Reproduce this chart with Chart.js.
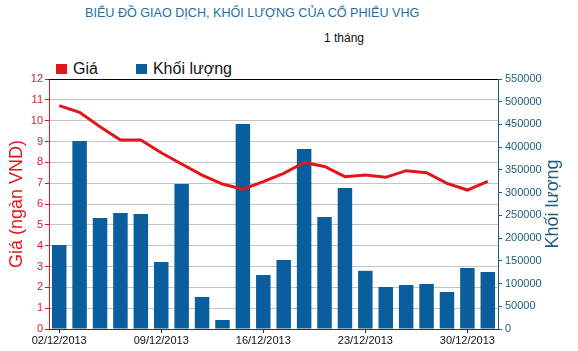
<!DOCTYPE html>
<html>
<head>
<meta charset="utf-8">
<script src="https://cdn.jsdelivr.net/npm/chart.js@4"></script>
<style>
    body { margin: 0; background: #fff; font-family: "Liberation Sans", Arial, sans-serif; }
    #wrap { position: relative; width: 578px; height: 351px; }
    #title { position: absolute; left: 85px; top: 6px; font-size: 12.6px; color: #2470a4; white-space: nowrap; }
    #period { position: absolute; left: 324px; top: 31px; font-size: 12px; color: #111; }
    #legend { position: absolute; left: 56px; top: 60px; font-size: 16px; color: #111; display: flex; }
    #legend span.item { display: flex; align-items: center; margin-right: 38px; }
    #legend span.box { width: 11px; height: 10px; margin-right: 6px; display: inline-block; }
    canvas { position: absolute; left: 0; top: 0; }
</style>
</head>
<body>
<div id="wrap">
    <div id="title">BIỂU ĐỒ GIAO DỊCH, KHỐI LƯỢNG CỦA CỔ PHIẾU VHG</div>
    <div id="period">1 tháng</div>
    <div id="legend"></div>
    <canvas id="stockChart" width="578" height="351"></canvas>
</div>
<script>
// Data
const dates = ['02/12/2013', '03/12/2013', '04/12/2013', '05/12/2013', '06/12/2013',
    '09/12/2013', '10/12/2013', '11/12/2013', '12/12/2013', '13/12/2013',
    '16/12/2013', '17/12/2013', '18/12/2013', '19/12/2013', '20/12/2013',
    '23/12/2013', '24/12/2013', '25/12/2013', '26/12/2013', '27/12/2013',
    '30/12/2013', '31/12/2013'];
const prices = [10.72, 10.40, 9.71, 9.07, 9.07, 8.46, 7.92, 7.39, 6.96, 6.71, 7.07,
    7.47, 7.99, 7.80, 7.31, 7.39, 7.28, 7.60, 7.50, 6.99, 6.67, 7.09];
const volumes = [185000, 413600, 244200, 255200, 253000, 147400, 319000, 70400, 19800,
    451000, 118800, 151800, 396000, 246400, 310200, 128000, 92400, 96800, 99000,
    81400, 134200, 125400];
const priceTicks = [0, 1, 2, 3, 4, 5, 6, 7, 8, 9, 10, 11, 12];
const volumeTicks = [0, 50000, 100000, 150000, 200000, 250000, 300000, 350000, 400000,
    450000, 500000, 550000];

const RED = '#e3151b';
const BLUE = '#0b5e9e';
const TEAL = '#1c5d7c';

// Axis titles + top border
const framePlugin = {
    id: 'frame',
    afterDraw(chart) {
        const c = chart.ctx;
        const a = chart.chartArea;
        c.save();
        c.strokeStyle = '#000';
        c.lineWidth = 1;
        c.beginPath();
        c.moveTo(a.left, a.top + 0.5);
        c.lineTo(a.right, a.top + 0.5);
        c.stroke();

        c.font = '18px "Liberation Sans", Arial, sans-serif';
        c.textAlign = 'center';
        c.textBaseline = 'middle';
        const midY = (a.top + a.bottom) / 2;

        c.translate(17, midY);
        c.rotate(-Math.PI / 2);
        c.fillStyle = RED;
        c.fillText('Giá (ngàn VND)', 0, 0);
        c.restore();

        c.save();
        c.font = '18px "Liberation Sans", Arial, sans-serif';
        c.textAlign = 'center';
        c.textBaseline = 'middle';
        c.translate(553, midY);
        c.rotate(-Math.PI / 2);
        c.fillStyle = TEAL;
        c.fillText('Khối lượng', 0, 0);
        c.restore();
    }
};

const ctx = document.getElementById('stockChart').getContext('2d');
const stockChart = new Chart(ctx, {
    data: {
        labels: dates,
        datasets: [{
            type: 'line',
            label: 'Giá',
            data: prices,
            yAxisID: 'yPrice',
            borderColor: RED,
            backgroundColor: RED,
            borderWidth: 3,
            pointRadius: 0,
            tension: 0,
            order: 0
        }, {
            type: 'bar',
            label: 'Khối lượng',
            data: volumes,
            yAxisID: 'yVolume',
            backgroundColor: BLUE,
            barPercentage: 0.71,
            categoryPercentage: 1,
            order: 1
        }]
    },
    options: {
        responsive: false,
        animation: false,
        layout: { padding: { top: 79, left: 0, right: 0, bottom: 0 } },
        plugins: {
            legend: { display: false },
            tooltip: { enabled: false }
        },
        scales: {
            x: {
                offset: true,
                grid: {
                    offset: false,
                    drawOnChartArea: false,
                    tickLength: 4,
                    tickColor: '#333'
                },
                border: { color: '#333' },
                ticks: {
                    autoSkip: false,
                    maxRotation: 0,
                    padding: 1,
                    color: '#111',
                    font: { size: 11, family: '"Liberation Sans", Arial, sans-serif' },
                    callback: function(value, index) {
                        return index % 5 === 0 ? dates[index] : null;
                    }
                },
                afterFit(scale) { scale.height = 22; }
            },
            yPrice: {
                position: 'left',
                min: 0,
                max: 12,
                afterBuildTicks(scale) {
                    scale.ticks = priceTicks.map(v => ({ value: v }));
                },
                grid: {
                    color: '#c4c4c4',
                    tickColor: RED,
                    tickLength: 4
                },
                border: { color: RED },
                ticks: {
                    padding: 2,
                    color: '#c4262b',
                    font: { size: 11, family: '"Liberation Sans", Arial, sans-serif' }
                },
                afterFit(scale) { scale.width = 49; }
            },
            yVolume: {
                position: 'right',
                min: 0,
                max: 550000,
                afterBuildTicks(scale) {
                    scale.ticks = volumeTicks.map(v => ({ value: v }));
                },
                grid: {
                    drawOnChartArea: false,
                    tickColor: TEAL,
                    tickLength: 4
                },
                border: { color: TEAL },
                ticks: {
                    padding: 3,
                    color: TEAL,
                    font: { size: 11, family: '"Liberation Sans", Arial, sans-serif' },
                    callback: v => String(v)
                },
                afterFit(scale) { scale.width = 80; }
            }
        }
    },
    plugins: [framePlugin]
});

// HTML legend from the datasets
const legend = document.getElementById('legend');
stockChart.data.datasets.forEach(ds => {
    const item = document.createElement('span');
    item.className = 'item';
    const box = document.createElement('span');
    box.className = 'box';
    box.style.background = ds.type === 'line' ? ds.borderColor : ds.backgroundColor;
    item.appendChild(box);
    item.appendChild(document.createTextNode(ds.label));
    legend.appendChild(item);
});
</script>
</body>
</html>
